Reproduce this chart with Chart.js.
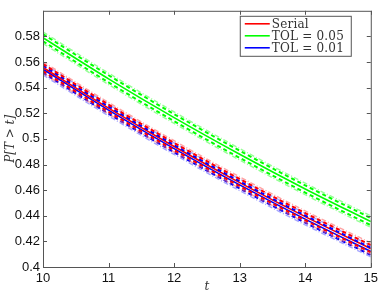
<!DOCTYPE html>
<html>
<head>
<meta charset="utf-8">
<script src="https://cdn.jsdelivr.net/npm/chart.js@4.4.0/dist/chart.umd.min.js"></script>
<style>
  html, body { margin: 0; padding: 0; background: #fff; }
  #wrap { width: 382px; height: 294px; }
</style>
</head>
<body>
<div id="wrap"><canvas id="survChart"></canvas></div>
<script>
// time points
const tValues = [10, 11, 12, 13, 14, 15];

// Serial
const serialMean = [0.5557, 0.5240, 0.4941, 0.4659, 0.4393, 0.4143];
const serialDashHi = [0.5585, 0.5268, 0.4969, 0.4687, 0.4421, 0.4171];
const serialDashLo = [0.5529, 0.5212, 0.4913, 0.4631, 0.4365, 0.4115];
const serialDotHi = [0.5602, 0.5285, 0.4986, 0.4704, 0.4438, 0.4188];
const serialDotLo = [0.5512, 0.5195, 0.4896, 0.4614, 0.4348, 0.4098];

// TOL = 0.05
const tol05Mean = [0.5790, 0.5469, 0.5166, 0.4880, 0.4609, 0.4354];
const tol05DashHi = [0.5818, 0.5497, 0.5194, 0.4908, 0.4637, 0.4382];
const tol05DashLo = [0.5762, 0.5441, 0.5138, 0.4852, 0.4581, 0.4326];
const tol05DotHi = [0.5835, 0.5514, 0.5211, 0.4925, 0.4654, 0.4399];
const tol05DotLo = [0.5745, 0.5424, 0.5121, 0.4835, 0.4564, 0.4309];

// TOL = 0.01
const tol01Mean = [0.5544, 0.5225, 0.4924, 0.4641, 0.4374, 0.4122];
const tol01DashHi = [0.5572, 0.5253, 0.4952, 0.4669, 0.4402, 0.4150];
const tol01DashLo = [0.5516, 0.5197, 0.4896, 0.4613, 0.4346, 0.4094];
const tol01DotHi = [0.5589, 0.5270, 0.4969, 0.4686, 0.4419, 0.4167];
const tol01DotLo = [0.5499, 0.5180, 0.4879, 0.4596, 0.4329, 0.4079];

const xTicks = [10, 11, 12, 13, 14, 15];
const yTicks = [0.4, 0.42, 0.44, 0.46, 0.48, 0.5, 0.52, 0.54, 0.56, 0.58];
const legendLabels = ["Serial", "TOL = 0.05", "TOL = 0.01"];

function pts(ys) {
  return ys.map((y, i) => ({ x: tValues[i], y: y }));
}

function lineSet(ys, color, kind) {
  const ds = {
    data: pts(ys),
    borderColor: color,
    borderWidth: 1.6,
    pointRadius: 0,
    fill: false,
    cubicInterpolationMode: "monotone",
  };
  if (kind === "dash") {
    ds.borderDash = [4, 3];
    ds.borderWidth = 2;
  } else if (kind === "dot") {
    ds.borderDash = [5, 2, 1, 2];
    ds.borderWidth = 1.4;
  }
  return ds;
}

const series = [
  { mean: serialMean, dHi: serialDashHi, dLo: serialDashLo, oHi: serialDotHi, oLo: serialDotLo, color: "#ff0000", light: "rgba(255,90,90,0.55)" },
  { mean: tol05Mean, dHi: tol05DashHi, dLo: tol05DashLo, oHi: tol05DotHi, oLo: tol05DotLo, color: "#00ff00", light: "rgba(80,255,80,0.6)" },
  { mean: tol01Mean, dHi: tol01DashHi, dLo: tol01DashLo, oHi: tol01DotHi, oLo: tol01DotLo, color: "#0000ff", light: "rgba(90,90,255,0.55)" },
];

const datasets = [];
series.forEach((s) => {
  datasets.push(lineSet(s.oHi, s.light, "dot"));
  datasets.push(lineSet(s.oLo, s.light, "dot"));
  datasets.push(lineSet(s.dHi, s.color, "dash"));
  datasets.push(lineSet(s.dLo, s.color, "dash"));
});
series.forEach((s) => {
  datasets.push(lineSet(s.mean, s.color, "solid"));
});

// frame, inward ticks and legend box
const framePlugin = {
  id: "frame",
  afterDraw(chart) {
    const c = chart.ctx;
    const a = chart.chartArea;
    const xs = chart.scales.x;
    const ys = chart.scales.y;
    c.save();
    c.strokeStyle = "#555";
    c.lineWidth = 1;
    c.strokeRect(a.left + 0.5, a.top + 0.5, a.right - a.left, a.bottom - a.top);
    const tl = 4;
    c.beginPath();
    xTicks.forEach((v) => {
      const px = Math.round(xs.getPixelForValue(v)) + 0.5;
      c.moveTo(px, a.bottom); c.lineTo(px, a.bottom - tl);
      c.moveTo(px, a.top); c.lineTo(px, a.top + tl);
    });
    yTicks.forEach((v) => {
      const py = Math.round(ys.getPixelForValue(v)) + 0.5;
      c.moveTo(a.left, py); c.lineTo(a.left + tl, py);
      c.moveTo(a.right, py); c.lineTo(a.right - tl, py);
    });
    c.stroke();

    // legend
    const bx = a.right - 131, by = a.top + 5, bw = 111, bh = 40;
    c.fillStyle = "#fff";
    c.fillRect(bx, by, bw, bh);
    c.strokeStyle = "#555";
    c.strokeRect(bx + 0.5, by + 0.5, bw, bh);
    c.font = "12px 'DejaVu Serif', 'Liberation Serif', serif";
    c.letterSpacing = "0.2px";
    c.textBaseline = "middle";
    c.fillStyle = "#333";
    series.forEach((s, i) => {
      const y = by + 8 + i * 12;
      c.strokeStyle = s.color;
      c.lineWidth = 1.6;
      c.beginPath();
      c.moveTo(bx + 5, y); c.lineTo(bx + 30, y);
      c.stroke();
      c.fillText(legendLabels[i], bx + 32, y + 1);
    });
    c.restore();
  },
};

const ctx = document.getElementById("survChart").getContext("2d");

new Chart(ctx, {
  type: "line",
  data: { datasets: datasets },
  options: {
    responsive: true,
    maintainAspectRatio: false,
    animation: false,
    layout: { padding: { left: 0, right: 10, top: 8, bottom: 0 } },
    plugins: {
      legend: { display: false },
      tooltip: { enabled: false },
    },
    scales: {
      x: {
        type: "linear",
        min: 10,
        max: 15,
        afterBuildTicks: (scale) => {
          scale.ticks = xTicks.map((v) => ({ value: v }));
        },
        afterFit: (scale) => { scale.height = 27; },
        grid: { display: false, drawTicks: false },
        border: { display: false },
        ticks: {
          color: "#111",
          font: { family: "'Liberation Sans', Arial, sans-serif", size: 13 },
          padding: 4,
          maxRotation: 0,
        },
        title: {
          display: true,
          text: "t",
          color: "#333",
          font: { family: "'DejaVu Serif', 'Liberation Serif', serif", size: 12, style: "italic" },
          padding: { top: -4, bottom: 0 },
        },
      },
      y: {
        min: 0.4,
        max: 0.6,
        afterBuildTicks: (scale) => {
          scale.ticks = yTicks.map((v) => ({ value: v }));
        },
        afterFit: (scale) => { scale.width = 43; },
        grid: { display: false, drawTicks: false },
        border: { display: false },
        ticks: {
          color: "#111",
          font: { family: "'Liberation Sans', Arial, sans-serif", size: 13 },
          padding: 3,
          callback: (v) => String(Number(v.toFixed(2))),
        },
        title: {
          display: true,
          text: "P[T > t]",
          color: "#333",
          font: { family: "'DejaVu Serif', 'Liberation Serif', serif", size: 12, style: "italic" },
          padding: { top: 4, bottom: 0 },
        },
      },
    },
  },
  plugins: [framePlugin],
});
</script>
</body>
</html>
